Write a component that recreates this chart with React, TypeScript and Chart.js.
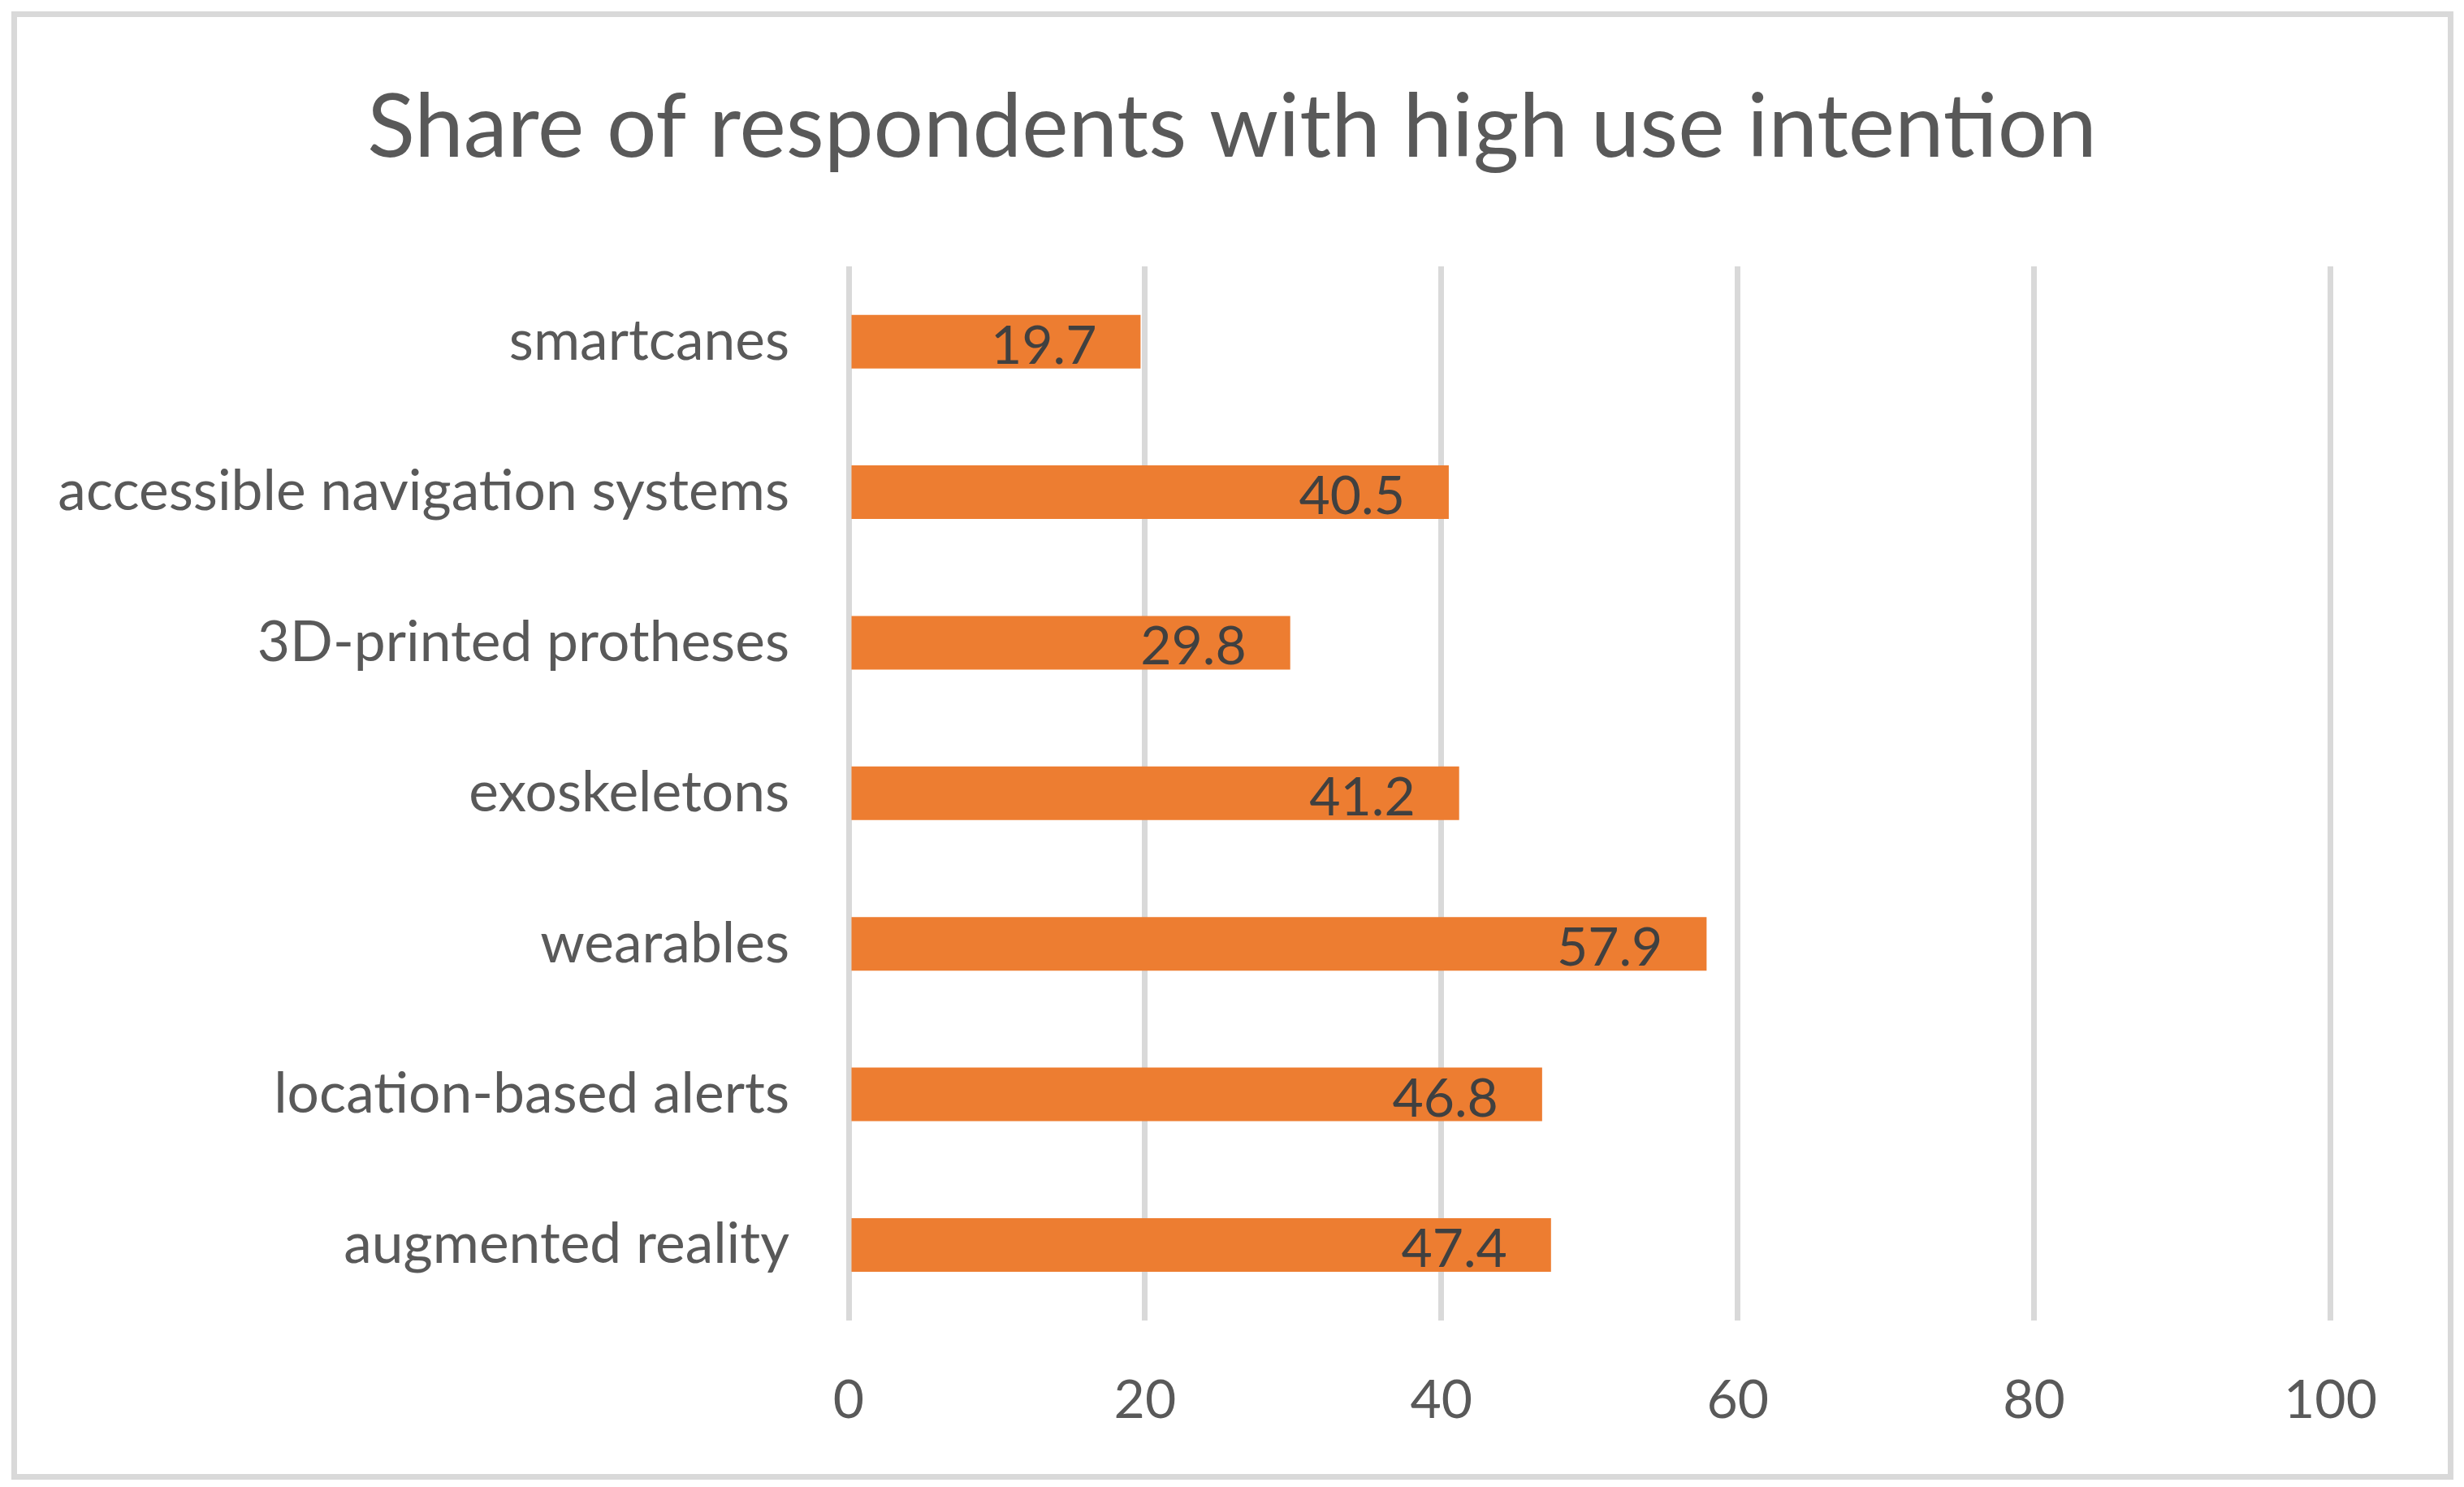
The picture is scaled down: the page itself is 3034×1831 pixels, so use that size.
import React, { useEffect, useRef } from "react";
import { Chart, registerables } from "chart.js";

Chart.register(...registerables);

const TITLE = "Share of respondents with high use intention";
const categories = [
  "smartcanes",
  "accessible navigation systems",
  "3D-printed protheses",
  "exoskeletons",
  "wearables",
  "location-based alerts",
  "augmented reality",
];
const values = [19.7, 40.5, 29.8, 41.2, 57.9, 46.8, 47.4];
const xTicks = [0, 20, 40, 60, 80, 100];

const FONT = "Lato, 'Open Sans', sans-serif";
const W = 3034;
const H = 1831;

const borderPlugin = {
  id: "outerBorder",
  beforeDraw(chart: any) {
    const ctx = chart.ctx;
    ctx.save();
    ctx.fillStyle = "#ffffff";
    ctx.fillRect(0, 0, chart.width, chart.height);
    ctx.strokeStyle = "#D9D9D9";
    ctx.lineWidth = 7;
    ctx.strokeRect(17.5, 17.5, 3000, 1801);
    ctx.restore();
  },
};

const labelPlugin = {
  id: "barValueLabels",
  afterDatasetsDraw(chart: any) {
    const ctx = chart.ctx;
    ctx.save();
    ctx.font = `66px ${FONT}`;
    ctx.fillStyle = "#404040";
    ctx.textAlign = "right";
    ctx.textBaseline = "alphabetic";
    chart.data.datasets.forEach((ds: any, di: number) => {
      const meta = chart.getDatasetMeta(di);
      meta.data.forEach((bar: any, i: number) => {
        const v = ds.data[i];
        ctx.fillText(v.toFixed(1), bar.x - 54, bar.y + 27);
      });
    });
    ctx.restore();
  },
};

export default function App() {
  const ref = useRef<HTMLCanvasElement | null>(null);
  useEffect(() => {
    if (!ref.current) return;
    const chart = new Chart(ref.current, {
      type: "bar",
      data: {
        labels: categories,
        datasets: [
          {
            label: "share",
            data: values,
            backgroundColor: "#ED7D31",
            borderWidth: 0,
            categoryPercentage: 1,
            barPercentage: 0.356,
          },
        ],
      },
      options: {
        indexAxis: "y",
        animation: false,
        responsive: false,
        devicePixelRatio: 1,
        layout: { padding: { left: 30, right: 30, top: 0, bottom: 0 } },
        plugins: {
          legend: { display: false },
          tooltip: { enabled: false },
          title: {
            display: true,
            text: TITLE,
            color: "#595959",
            font: { family: FONT, size: 108.5, weight: "normal", lineHeight: 1.2 },
            padding: { top: 93, bottom: 104.8 },
          },
        },
        scales: {
          x: {
            min: 0,
            max: 100,
            afterBuildTicks(scale: any) {
              scale.ticks = xTicks.map((v) => ({ value: v }));
            },
            afterFit(scale: any) {
              scale.height = H - 1625.7;
            },
            grid: { color: "#D9D9D9", lineWidth: 7, drawTicks: false },
            border: { display: false },
            ticks: {
              color: "#595959",
              font: { family: FONT, size: 66 },
              padding: 59,
              maxRotation: 0,
            },
          },
          y: {
            afterFit(scale: any) {
              scale.width = 1045 - 30;
            },
            grid: { display: false, drawTicks: false },
            border: { display: false },
            ticks: {
              color: "#595959",
              font: { family: FONT, size: 69.5 },
              padding: 73,
            },
          },
          yRight: {
            type: "linear",
            axis: "y",
            position: "right",
            afterFit(scale: any) {
              scale.width = 3034 - 30 - 2869.5;
            },
            grid: { display: false, drawTicks: false },
            border: { display: false },
            ticks: { display: false },
          },
        },
      },
      plugins: [borderPlugin, labelPlugin],
    });
    return () => chart.destroy();
  }, []);
  return (
    <div style={{ position: "absolute", left: 0, top: 0, width: W, height: H }}>
      <canvas ref={ref} width={W} height={H} style={{ width: W, height: H, display: "block" }} />
    </div>
  );
}
